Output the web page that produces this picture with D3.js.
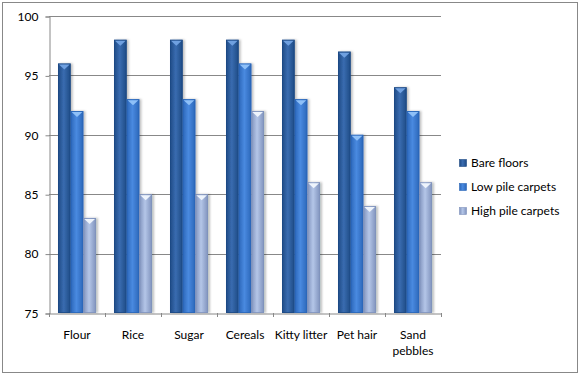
<!DOCTYPE html>
<html>
<head>
    <meta charset="utf-8">
    <title>Cleaning efficiency</title>
    <style>
        body { margin: 0; background: #fff; }
        text { font-family: Lato, "Open Sans", sans-serif; fill: #000; }
    </style>
</head>
<body>
<div id="chart"></div>
<script src="https://cdn.jsdelivr.net/npm/d3@7/dist/d3.min.js"></script>
<script>

    let categories = ['Flour', 'Rice', 'Sugar', 'Cereals', 'Kitty litter', 'Pet hair', 'Sand pebbles'];
    let series = ['Bare floors', 'Low pile carpets', 'High pile carpets'];
    let bareFloors = [96, 98, 98, 98, 98, 97, 94];
    let lowPile = [92, 93, 93, 96, 93, 90, 92];
    let highPile = [83, 85, 85, 92, 86, 84, 86];
    let yTicks = [75, 80, 85, 90, 95, 100];

    let values = [bareFloors, lowPile, highPile];
    let data = categories.map((c, i) => ({cat: c, vals: series.map((s, j) => ({key: s, j: j, v: values[j][i]}))}));

    function translate(x, y) {
        return 'translate(' + x + ', ' + y + ')';
    }

    let svgWidth = 580, svgHeight = 376;
    let plot = {left: 49, right: 441, top: 16, bottom: 313};

    let svg = d3.select('#chart')
        .append('svg')
        .attr('width', svgWidth)
        .attr('height', svgHeight);

    // colour stops per series: edge, centre, highlight for the cap
    let palette = [
        {edge: '#1d4a84', mid: '#3a6cb0', cap: '#6fa0e0', capEdge: '#2e5d9c'},
        {edge: '#2a66b8', mid: '#4a8ae0', cap: '#8ec0f8', capEdge: '#3f7dd0'},
        {edge: '#7f92bc', mid: '#b4c6e8', cap: '#eef4fc', capEdge: '#9cb0d8'}
    ];

    let defs = svg.append('defs');
    palette.forEach((p, j) => {
        let g = defs.append('linearGradient')
            .attr('id', 'grad' + j)
            .attr('x1', '0').attr('x2', '1').attr('y1', '0').attr('y2', '0');
        g.append('stop').attr('offset', '0%').attr('stop-color', p.edge);
        g.append('stop').attr('offset', '45%').attr('stop-color', p.mid);
        g.append('stop').attr('offset', '100%').attr('stop-color', p.edge);
    });
    let shadow = defs.append('filter').attr('id', 'shadow')
        .attr('x', '-20%').attr('y', '-5%').attr('width', '160%').attr('height', '110%');
    shadow.append('feDropShadow')
        .attr('dx', 2).attr('dy', 0).attr('stdDeviation', 1.2)
        .attr('flood-color', '#000').attr('flood-opacity', 0.25);

    // outer border
    svg.append('rect')
        .attr('x', 2.5).attr('y', 2.5)
        .attr('width', 575).attr('height', 370)
        .attr('fill', 'none')
        .attr('stroke', '#888')
        .attr('stroke-width', 1);

    let x0 = d3.scaleBand()
        .domain(categories)
        .range([plot.left, plot.right])
        .padding(0);

    let x1 = d3.scaleBand()
        .domain(series)
        .range([0, x0.bandwidth()])
        .paddingInner(0)
        .paddingOuter(0.71);

    let y = d3.scaleLinear()
        .domain([75, 100])
        .range([plot.bottom, plot.top]);

    // gridlines
    svg.append('g')
        .selectAll('line')
        .data(yTicks.filter(t => t > 75))
        .enter()
        .append('line')
        .attr('x1', plot.left).attr('x2', plot.right)
        .attr('y1', d => Math.round(y(d)) + 0.5)
        .attr('y2', d => Math.round(y(d)) + 0.5)
        .attr('stroke', '#888');

    // y axis
    let yAxis = d3.axisLeft(y).tickValues(yTicks).tickSize(4).tickPadding(7);
    let yg = svg.append('g')
        .attr('transform', translate(plot.left + 0.5, 0.5))
        .call(yAxis);
    yg.selectAll('path, line').attr('stroke', '#888');
    yg.selectAll('text').style('font-size', '12px').style('font-family', 'Lato, sans-serif').attr('fill', '#000');

    // bars
    let groups = svg.append('g')
        .selectAll('g')
        .data(data)
        .enter()
        .append('g')
        .attr('transform', d => translate(x0(d.cat), 0));

    let bars = groups.selectAll('g')
        .data(d => d.vals)
        .enter()
        .append('g');

    bars.append('rect')
        .attr('x', d => x1(d.key))
        .attr('y', d => y(d.v))
        .attr('width', x1.bandwidth())
        .attr('height', d => y(75) - y(d.v))
        .attr('fill', d => 'url(#grad' + d.j + ')')
        .attr('filter', 'url(#shadow)');

    bars.append('rect')
        .attr('x', d => x1(d.key) + 0.5)
        .attr('y', d => y(d.v) + 0.5)
        .attr('width', x1.bandwidth() - 1)
        .attr('height', d => y(75) - y(d.v) - 1)
        .attr('fill', 'none')
        .attr('stroke', d => palette[d.j].edge)
        .attr('stroke-opacity', 0.8);

    // cone-shaped cap highlight at top of each bar
    bars.append('path')
        .attr('d', d => {
            let xl = x1(d.key) + 1, xr = x1(d.key) + x1.bandwidth() - 1;
            let xm = (xl + xr) / 2, yt = y(d.v) + 1;
            return 'M' + xl + ',' + yt + 'L' + xr + ',' + yt + 'L' + xm + ',' + (yt + 5) + 'Z';
        })
        .attr('fill', d => palette[d.j].cap);

    // x axis
    let xAxis = d3.axisBottom(x0).tickSize(0).tickFormat('');
    let xg = svg.append('g')
        .attr('transform', translate(0, plot.bottom + 0.5))
        .call(xAxis);
    xg.select('path').attr('stroke', '#888');

    svg.append('g')
        .selectAll('line')
        .data(categories.concat(['end']))
        .enter()
        .append('line')
        .attr('x1', (d, i) => Math.round(plot.left + i * x0.bandwidth()) + 0.5)
        .attr('x2', (d, i) => Math.round(plot.left + i * x0.bandwidth()) + 0.5)
        .attr('y1', plot.bottom)
        .attr('y2', plot.bottom + 4)
        .attr('stroke', '#888');

    let labels = svg.append('g')
        .selectAll('text')
        .data(categories)
        .enter()
        .append('text')
        .attr('x', d => x0(d) + x0.bandwidth() / 2)
        .attr('y', 339)
        .attr('text-anchor', 'middle')
        .style('font-size', '12px');

    labels.each(function(d) {
        let words = d === 'Sand pebbles' ? ['Sand', 'pebbles'] : [d];
        let t = d3.select(this);
        words.forEach((w, i) => {
            t.append('tspan')
                .attr('x', x0(d) + x0.bandwidth() / 2)
                .attr('dy', i === 0 ? 0 : 16)
                .text(w);
        });
    });

    // legend
    let legend = svg.selectAll('.legend')
        .data(series)
        .enter()
        .append('g')
        .attr('class', 'legend')
        .attr('transform', (d, i) => translate(459, 159 + i * 24));

    legend.append('rect')
        .attr('x', 0.5).attr('y', 0.5)
        .attr('width', 7).attr('height', 7)
        .attr('fill', (d, i) => 'url(#grad' + i + ')')
        .attr('stroke', (d, i) => palette[i].edge)
        .attr('stroke-width', 0.6);

    legend.append('text')
        .attr('x', 12)
        .attr('y', 4)
        .attr('dy', '0.35em')
        .style('font-size', '12px')
        .text(d => d);

</script>
</body>
</html>
